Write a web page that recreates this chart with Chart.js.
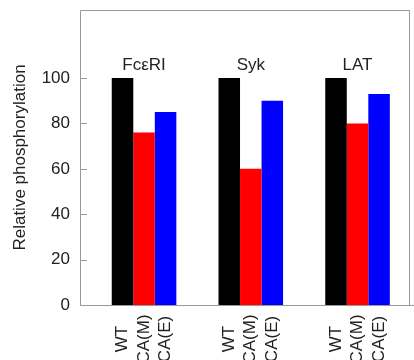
<!DOCTYPE html>
<html>
<head>
<meta charset="utf-8">
<script src="https://cdn.jsdelivr.net/npm/chart.js@4.4.1/dist/chart.umd.min.js"></script>
<style>
  html, body { margin: 0; padding: 0; background: #fff; }
  #wrap { width: 414px; height: 360px; }
</style>
</head>
<body>
<div id="wrap"><canvas id="chart"></canvas></div>
<script>
const categories = ['FcεRI', 'Syk', 'LAT'];
const seriesNames = ['WT', 'CA(M)', 'CA(E)'];
const wtValues = [100, 100, 100];
const caMValues = [76, 60, 80];
const caEValues = [85, 90, 93];
const yTicks = [0, 20, 40, 60, 80, 100];

const colors = ['#000000', '#ff0000', '#0000ff'];
const textColor = '#222';
const fontFamily = '"Liberation Sans", Arial, Helvetica, sans-serif';

const toPoints = (vals) => vals.map((v, i) => ({ x: i, y: v }));

// box, inward ticks and all the extra labels
const decorPlugin = {
  id: 'decor',
  afterDatasetsDraw(chart) {
    const { ctx, chartArea: a, scales: { x, y } } = chart;
    ctx.save();
    ctx.strokeStyle = '#999';
    ctx.lineWidth = 1;
    ctx.beginPath();
    ctx.moveTo(a.left + 0.5, a.bottom + 0.5);
    ctx.lineTo(a.left + 0.5, a.top + 0.5);
    ctx.lineTo(a.right + 0.5, a.top + 0.5);
    ctx.lineTo(a.right + 0.5, a.bottom + 0.5);
    ctx.moveTo(a.left, a.bottom + 0.5);
    ctx.lineTo(chart.width, a.bottom + 0.5);
    yTicks.forEach(t => {
      const py = Math.round(y.getPixelForValue(t)) + 0.5;
      ctx.moveTo(a.left + 1, py);
      ctx.lineTo(a.left + 7, py);
    });
    ctx.stroke();

    ctx.fillStyle = textColor;
    ctx.font = '17px ' + fontFamily;
    ctx.textAlign = 'center';
    ctx.textBaseline = 'alphabetic';
    categories.forEach((c, i) => {
      ctx.fillText(c, x.getPixelForValue(i), y.getPixelForValue(103.5));
    });

    seriesNames.forEach((name, d) => {
      chart.getDatasetMeta(d).data.forEach(bar => {
        ctx.save();
        ctx.translate(bar.x, a.bottom + 34);
        ctx.rotate(-Math.PI / 2);
        ctx.textAlign = 'center';
        ctx.textBaseline = 'middle';
        ctx.fillText(name, 0, 0);
        ctx.restore();
      });
    });
    ctx.restore();
  }
};

new Chart(document.getElementById('chart'), {
  type: 'bar',
  data: {
    datasets: [
      { label: seriesNames[0], data: toPoints(wtValues), backgroundColor: colors[0] },
      { label: seriesNames[1], data: toPoints(caMValues), backgroundColor: colors[1] },
      { label: seriesNames[2], data: toPoints(caEValues), backgroundColor: colors[2] }
    ]
  },
  options: {
    responsive: true,
    maintainAspectRatio: false,
    animation: false,
    layout: { padding: { top: 10, right: 5, bottom: 55, left: 0 } },
    datasets: { bar: { categoryPercentage: 0.605, barPercentage: 1.0, borderWidth: 0 } },
    plugins: { legend: { display: false }, tooltip: { enabled: false } },
    scales: {
      x: {
        type: 'linear',
        min: -0.6,
        max: 2.482,
        offset: false,
        display: false,
        afterBuildTicks(scale) {
          scale.ticks = categories.map((c, i) => ({ value: i }));
        }
      },
      y: {
        min: 0,
        max: 130,
        afterFit(scale) {
          scale.width = 80;
          scale.paddingTop = 0;
          scale.paddingBottom = 0;
        },
        afterBuildTicks(scale) {
          scale.ticks = yTicks.map(v => ({ value: v }));
        },
        grid: { display: false, drawTicks: false },
        border: { display: false },
        ticks: {
          padding: 10,
          color: textColor,
          font: { size: 17, family: fontFamily }
        },
        title: {
          display: true,
          text: 'Relative phosphorylation',
          color: textColor,
          font: { size: 17, family: fontFamily },
          padding: { top: 10, bottom: 0 }
        }
      }
    }
  },
  plugins: [decorPlugin]
});
</script>
</body>
</html>
